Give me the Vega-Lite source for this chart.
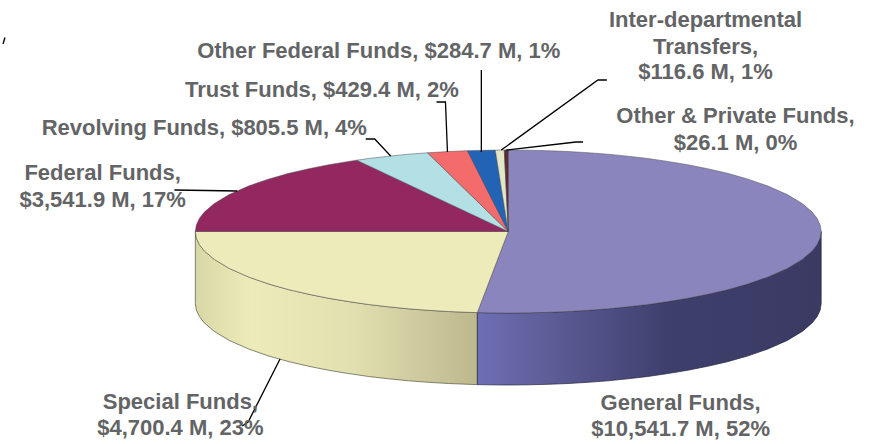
{
"$schema":"https://vega.github.io/schema/vega-lite/v6.json",
"width":869,"height":444,"padding":0,"autosize":{"type":"fit","contains":"padding"},
"background":"white",
"config":{"view":{"stroke":null}},
"datasets":{
"wallSpecial":[
{"x":-314,"y":0,"y2":-72},{"x":-313,"y":-6.5,"y2":-78.5},{"x":-310,"y":-13,"y2":-85},{"x":-305,"y":-19.4,"y2":-91.4},{"x":-295,"y":-27.9,"y2":-99.9},{"x":-280,"y":-36.9,"y2":-108.9},{"x":-260,"y":-45.7,"y2":-117.7},{"x":-240,"y":-52.6,"y2":-124.6},{"x":-220,"y":-58.2,"y2":-130.2},{"x":-200,"y":-62.8,"y2":-134.8},{"x":-180,"y":-66.8,"y2":-138.8},{"x":-160,"y":-70.1,"y2":-142.1},{"x":-140,"y":-73,"y2":-145},{"x":-120,"y":-75.3,"y2":-147.3},{"x":-100,"y":-77.3,"y2":-149.3},{"x":-80,"y":-78.8,"y2":-150.8},{"x":-60,"y":-80,"y2":-152},{"x":-40,"y":-80.8,"y2":-152.8},{"x":-31,"y":-81.1,"y2":-153.1}],
"wallGeneral":[
{"x":-31,"y":-81.1,"y2":-153.1},{"x":-20,"y":-81.3,"y2":-153.3},{"x":0,"y":-81.5,"y2":-153.5},{"x":20,"y":-81.3,"y2":-153.3},{"x":40,"y":-80.8,"y2":-152.8},{"x":60,"y":-80,"y2":-152},{"x":80,"y":-78.8,"y2":-150.8},{"x":100,"y":-77.3,"y2":-149.3},{"x":120,"y":-75.3,"y2":-147.3},{"x":140,"y":-73,"y2":-145},{"x":160,"y":-70.1,"y2":-142.1},{"x":180,"y":-66.8,"y2":-138.8},{"x":200,"y":-62.8,"y2":-134.8},{"x":220,"y":-58.2,"y2":-130.2},{"x":240,"y":-52.6,"y2":-124.6},{"x":260,"y":-45.7,"y2":-117.7},{"x":280,"y":-36.9,"y2":-108.9},{"x":295,"y":-27.9,"y2":-99.9},{"x":305,"y":-19.4,"y2":-91.4},{"x":310,"y":-13,"y2":-85},{"x":313,"y":-6.5,"y2":-78.5},{"x":314,"y":0,"y2":-72}],
"faces":[
{"part":"General Funds","x":-31,"y":-81.1,"y2":-81.1},{"part":"General Funds","x":-20,"y":-52.3,"y2":-81.3},{"part":"General Funds","x":0,"y":0,"y2":-81.5},{"part":"General Funds","x":0.01,"y":81.5,"y2":-81.5},{"part":"General Funds","x":20,"y":81.3,"y2":-81.3},{"part":"General Funds","x":40,"y":80.8,"y2":-80.8},{"part":"General Funds","x":60,"y":80,"y2":-80},{"part":"General Funds","x":80,"y":78.8,"y2":-78.8},{"part":"General Funds","x":100,"y":77.3,"y2":-77.3},{"part":"General Funds","x":120,"y":75.3,"y2":-75.3},{"part":"General Funds","x":140,"y":73,"y2":-73},{"part":"General Funds","x":160,"y":70.1,"y2":-70.1},{"part":"General Funds","x":180,"y":66.8,"y2":-66.8},{"part":"General Funds","x":200,"y":62.8,"y2":-62.8},{"part":"General Funds","x":220,"y":58.2,"y2":-58.2},{"part":"General Funds","x":240,"y":52.6,"y2":-52.6},{"part":"General Funds","x":260,"y":45.7,"y2":-45.7},{"part":"General Funds","x":280,"y":36.9,"y2":-36.9},{"part":"General Funds","x":295,"y":27.9,"y2":-27.9},{"part":"General Funds","x":305,"y":19.4,"y2":-19.4},{"part":"General Funds","x":310,"y":13,"y2":-13},{"part":"General Funds","x":313,"y":6.5,"y2":-6.5},{"part":"General Funds","x":314,"y":0,"y2":0},
{"part":"Special Funds","x":-314,"y":0,"y2":0},{"part":"Special Funds","x":-313,"y":0,"y2":-6.5},{"part":"Special Funds","x":-310,"y":0,"y2":-13},{"part":"Special Funds","x":-305,"y":0,"y2":-19.4},{"part":"Special Funds","x":-295,"y":0,"y2":-27.9},{"part":"Special Funds","x":-280,"y":0,"y2":-36.9},{"part":"Special Funds","x":-260,"y":0,"y2":-45.7},{"part":"Special Funds","x":-240,"y":0,"y2":-52.6},{"part":"Special Funds","x":-220,"y":0,"y2":-58.2},{"part":"Special Funds","x":-200,"y":0,"y2":-62.8},{"part":"Special Funds","x":-180,"y":0,"y2":-66.8},{"part":"Special Funds","x":-160,"y":0,"y2":-70.1},{"part":"Special Funds","x":-140,"y":0,"y2":-73},{"part":"Special Funds","x":-120,"y":0,"y2":-75.3},{"part":"Special Funds","x":-100,"y":0,"y2":-77.3},{"part":"Special Funds","x":-80,"y":0,"y2":-78.8},{"part":"Special Funds","x":-60,"y":0,"y2":-80},{"part":"Special Funds","x":-40,"y":0,"y2":-80.8},{"part":"Special Funds","x":-31,"y":0,"y2":-81.1},{"part":"Special Funds","x":0,"y":0,"y2":0},
{"part":"Federal Funds","x":-314,"y":0,"y2":0},{"part":"Federal Funds","x":-313,"y":6.5,"y2":0},{"part":"Federal Funds","x":-310,"y":13,"y2":0},{"part":"Federal Funds","x":-305,"y":19.4,"y2":0},{"part":"Federal Funds","x":-295,"y":27.9,"y2":0},{"part":"Federal Funds","x":-280,"y":36.9,"y2":0},{"part":"Federal Funds","x":-260,"y":45.7,"y2":0},{"part":"Federal Funds","x":-240,"y":52.6,"y2":0},{"part":"Federal Funds","x":-220,"y":58.2,"y2":0},{"part":"Federal Funds","x":-200,"y":62.8,"y2":0},{"part":"Federal Funds","x":-180,"y":66.8,"y2":0},{"part":"Federal Funds","x":-160,"y":70.1,"y2":0},{"part":"Federal Funds","x":-152,"y":71.3,"y2":0},{"part":"Federal Funds","x":0,"y":0,"y2":0},
{"part":"Revolving Funds","x":-152,"y":71.3,"y2":71.3},{"part":"Revolving Funds","x":-140,"y":73,"y2":65.7},{"part":"Revolving Funds","x":-120,"y":75.3,"y2":56.3},{"part":"Revolving Funds","x":-100,"y":77.3,"y2":46.9},{"part":"Revolving Funds","x":-81,"y":78.7,"y2":38},{"part":"Revolving Funds","x":0,"y":0,"y2":0},
{"part":"Trust Funds","x":-81,"y":78.7,"y2":78.7},{"part":"Trust Funds","x":-60,"y":80,"y2":58.3},{"part":"Trust Funds","x":-41,"y":80.8,"y2":39.8},{"part":"Trust Funds","x":0,"y":0,"y2":0},
{"part":"Other Federal Funds","x":-41,"y":80.8,"y2":80.8},{"part":"Other Federal Funds","x":-13,"y":81.4,"y2":25.6},{"part":"Other Federal Funds","x":0,"y":0,"y2":0},
{"part":"Inter-departmental Transfers","x":-13,"y":81.4,"y2":81.4},{"part":"Inter-departmental Transfers","x":-4,"y":81.5,"y2":25.1},{"part":"Inter-departmental Transfers","x":0,"y":0,"y2":0},
{"part":"Other & Private Funds","x":-4,"y":81.5,"y2":81.5},{"part":"Other & Private Funds","x":0,"y":81.5,"y2":0}],
"leaders":[
{"part":"Federal Funds","n":1,"x":-335,"y":41.5},{"part":"Federal Funds","n":2,"x":-272,"y":40.5},
{"part":"Revolving Funds","n":1,"x":-143,"y":92.5},{"part":"Revolving Funds","n":2,"x":-134,"y":92.5},{"part":"Revolving Funds","n":3,"x":-118,"y":75.5},
{"part":"Trust Funds","n":1,"x":-72,"y":129.5},{"part":"Trust Funds","n":2,"x":-63,"y":129.5},{"part":"Trust Funds","n":3,"x":-61,"y":79.5},
{"part":"Other Federal Funds","n":1,"x":-27,"y":161.5},{"part":"Other Federal Funds","n":2,"x":-27,"y":79.5},
{"part":"Inter-departmental Transfers","n":1,"x":99,"y":151.5},{"part":"Inter-departmental Transfers","n":2,"x":90,"y":151.5},{"part":"Inter-departmental Transfers","n":3,"x":-7,"y":81.5},
{"part":"Other & Private Funds","n":1,"x":75,"y":89.5},{"part":"Other & Private Funds","n":2,"x":68,"y":89.5},{"part":"Other & Private Funds","n":3,"x":-2,"y":81.5},
{"part":"Special Funds","n":1,"x":-229,"y":-127.5},{"part":"Special Funds","n":2,"x":-261,"y":-190.5},{"part":"Special Funds","n":3,"x":-267,"y":-194.5},
{"part":"stray","n":1,"x":-507,"y":187.5},{"part":"stray","n":2,"x":-505,"y":194}],
"labels":[
{"text":"Inter-departmental","x":198,"y":211.5},
{"text":"Transfers,","x":198,"y":184.5},
{"text":"$116.6 M, 1%","x":198,"y":160},
{"text":"Other & Private Funds,","x":228,"y":115.5},
{"text":"$26.1 M, 0%","x":228,"y":88.5},
{"text":"Other Federal Funds, $284.7 M, 1%","x":-130,"y":180.5},
{"text":"Trust Funds, $429.4 M, 2%","x":-187,"y":141.5},
{"text":"Revolving Funds, $805.5 M, 4%","x":-305,"y":103.5},
{"text":"Federal Funds,","x":-407,"y":58.5},
{"text":"$3,541.9 M, 17%","x":-407,"y":31.5},
{"text":"Special Funds,","x":-329,"y":-170.5},
{"text":"$4,700.4 M, 23%","x":-329,"y":-196.5},
{"text":"General Funds,","x":173,"y":-171.5},
{"text":"$10,541.7 M, 52%","x":173,"y":-197.5}]
},
"encoding":{
"x":{"field":"x","type":"quantitative","axis":null,"scale":{"domain":[-507,362],"nice":false,"zero":false}},
"y":{"field":"y","type":"quantitative","axis":null,"stack":null,"scale":{"domain":[-212.5,231.5],"nice":false,"zero":false}}
},
"layer":[
{"data":{"name":"wallSpecial"},
 "mark":{"type":"area","stroke":"#55553f","strokeWidth":0.7,"color":{"gradient":"linear","x1":0,"y1":0,"x2":1,"y2":0,"stops":[{"offset":0,"color":"#d8d8a6"},{"offset":0.2,"color":"#ecebb9"},{"offset":0.55,"color":"#e2e0b0"},{"offset":1,"color":"#bdb78e"}]}},
 "encoding":{"y2":{"field":"y2"}}},
{"data":{"name":"wallGeneral"},
 "mark":{"type":"area","stroke":"#22223f","strokeWidth":0.7,"color":{"gradient":"linear","x1":0,"y1":0,"x2":1,"y2":0,"stops":[{"offset":0,"color":"#6e6eb6"},{"offset":0.15,"color":"#62629f"},{"offset":0.55,"color":"#3f3f6e"},{"offset":1,"color":"#3a3a63"}]}},
 "encoding":{"y2":{"field":"y2"}}},
{"data":{"name":"faces"},
 "mark":{"type":"area","stroke":"#4a4a52","strokeWidth":0.5},
 "encoding":{"y2":{"field":"y2"},
  "color":{"field":"part","type":"nominal","legend":null,
   "scale":{"domain":["General Funds","Special Funds","Federal Funds","Revolving Funds","Trust Funds","Other Federal Funds","Inter-departmental Transfers","Other & Private Funds"],
    "range":["#8a86bd","#eeebba","#93275f","#b2e0e4","#f36b6b","#2263b5","#e3e7c8","#5b2a32"]}}}},
{"data":{"name":"leaders"},
 "mark":{"type":"line","color":"#000000","strokeWidth":1.3},
 "encoding":{"detail":{"field":"part"},"order":{"field":"n"}}},
{"data":{"name":"labels"},
 "mark":{"type":"text","font":"Liberation Sans","fontWeight":"bold","fontSize":22,"color":"#636466","align":"center","baseline":"middle"},
 "encoding":{"text":{"field":"text"}}}
]
}
